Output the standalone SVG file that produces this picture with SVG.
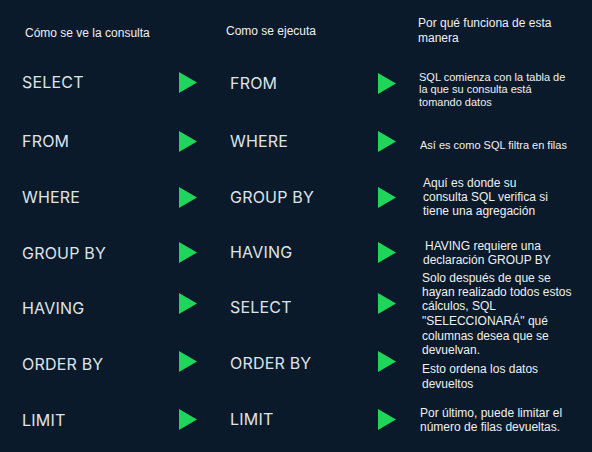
<svg xmlns="http://www.w3.org/2000/svg" width="592" height="452" viewBox="0 0 592 452">
<style>
.hdr{font-family:"Liberation Sans",Arial,sans-serif;font-size:12px;fill:#eef0f2}
.kw{font-family:Inter,"Noto Sans",sans-serif;font-size:16px;fill:#dfe3e8;letter-spacing:0.2px}
.exp{font-family:"Liberation Sans",Arial,sans-serif;font-size:11px;fill:#eef0f2}
.exp2{font-family:"Liberation Sans",Arial,sans-serif;font-size:12px;fill:#eef0f2}
.tri{fill:#1fd65c}
</style>
<defs>
<polygon id="arr" points="0,0 18,10.5 0,21" class="tri"/>
</defs>
<rect width="592" height="452" fill="#0b1a2a"/>
<g id="headers">
<text class="hdr" x="25" y="37">Cómo se ve la consulta</text>
<text class="hdr" x="226" y="35">Como se ejecuta</text>
<text class="hdr" x="418" y="27">Por qué funciona de esta</text>
<text class="hdr" x="418" y="42">manera</text>
</g>
<g id="col-query">
<text class="kw" x="22" y="88">SELECT</text>
<text class="kw" x="22" y="147">FROM</text>
<text class="kw" x="22" y="203">WHERE</text>
<text class="kw" x="22" y="259">GROUP BY</text>
<text class="kw" x="22" y="314">HAVING</text>
<text class="kw" x="22" y="370">ORDER BY</text>
<text class="kw" x="22" y="426">LIMIT</text>
</g>
<g id="connectors">
<use href="#arr" x="179" y="72"/>
<use href="#arr" x="179" y="131"/>
<use href="#arr" x="179" y="187"/>
<use href="#arr" x="179" y="242"/>
<use href="#arr" x="179" y="293"/>
<use href="#arr" x="179" y="351"/>
<use href="#arr" x="179" y="409"/>
<use href="#arr" x="378" y="73"/>
<use href="#arr" x="378" y="131"/>
<use href="#arr" x="378" y="187"/>
<use href="#arr" x="378" y="242"/>
<use href="#arr" x="378" y="293"/>
<use href="#arr" x="378" y="351"/>
<use href="#arr" x="378" y="409"/>
</g>
<g id="col-exec">
<text class="kw" x="230" y="89">FROM</text>
<text class="kw" x="230" y="147">WHERE</text>
<text class="kw" x="230" y="203">GROUP BY</text>
<text class="kw" x="230" y="258">HAVING</text>
<text class="kw" x="230" y="313">SELECT</text>
<text class="kw" x="230" y="369">ORDER BY</text>
<text class="kw" x="230" y="425">LIMIT</text>
</g>
<g id="col-why">
<text class="exp" x="419" y="81">SQL comienza con la tabla de</text>
<text class="exp" x="419" y="93">la que su consulta está</text>
<text class="exp" x="419" y="106">tomando datos</text>
<text class="exp" x="420" y="149">Así es como SQL filtra en filas</text>
<text class="exp2" x="423" y="187">Aquí es donde su</text>
<text class="exp2" x="423" y="201">consulta SQL verifica si</text>
<text class="exp2" x="423" y="215">tiene una agregación</text>
<text class="exp2" x="425" y="250">HAVING requiere una</text>
<text class="exp2" x="423" y="264">declaración GROUP BY</text>
<text class="exp2" x="422" y="282">Solo después de que se</text>
<text class="exp2" x="422" y="296">hayan realizado todos estos</text>
<text class="exp2" x="422" y="310">cálculos, SQL</text>
<text class="exp2" x="422" y="325">"SELECCIONARÁ" qué</text>
<text class="exp2" x="422" y="340">columnas desea que se</text>
<text class="exp2" x="422" y="354">devuelvan.</text>
<text class="exp2" x="422" y="373">Esto ordena los datos</text>
<text class="exp2" x="422" y="388">devueltos</text>
<text class="exp2" x="420" y="417">Por último, puede limitar el</text>
<text class="exp2" x="420" y="431">número de filas devueltas.</text>
</g>
</svg>
